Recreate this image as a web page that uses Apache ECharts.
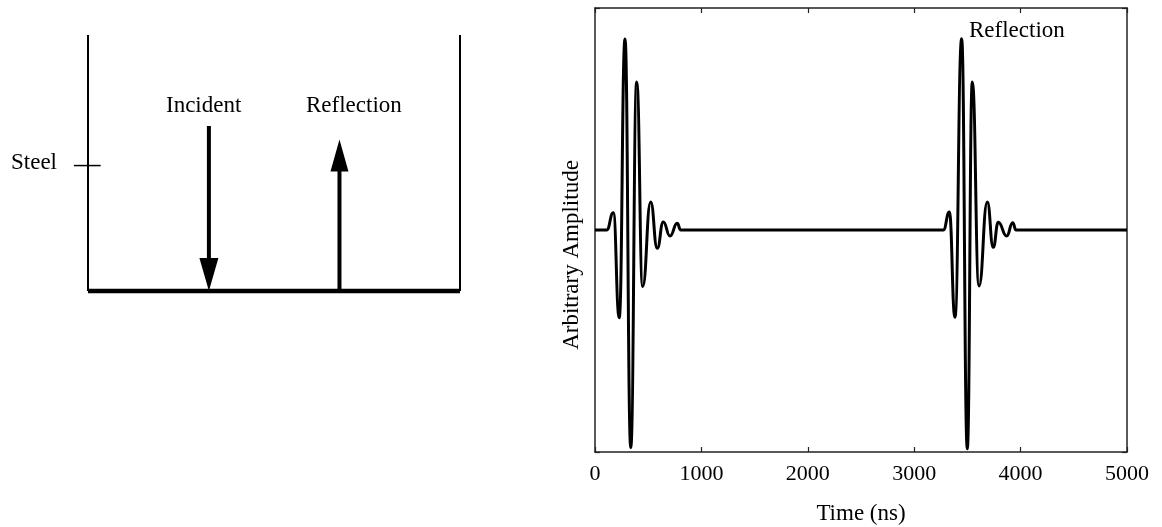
<!DOCTYPE html>
<html>
<head>
<meta charset="utf-8">
<script src="https://cdn.jsdelivr.net/npm/echarts@6/dist/echarts.min.js"></script>
<style>
html,body{margin:0;padding:0;background:#fff;}
#c{width:1162px;height:527px;}
</style>
</head>
<body>
<div id="c"></div>
<script>
// ---- Waveform data (time in ns, arbitrary amplitude) ----
const incidentTime = [0, 110, 172, 228, 282, 336, 392, 448, 523, 585, 642, 705, 773, 805];
const incidentAmp  = [0, 0, 0.078, -0.395, 0.86, -0.98, 0.667, -0.255, 0.126, -0.082, 0.036, -0.027, 0.03, 0];
const reflectTime  = [3274, 3330, 3383, 3446, 3499, 3546, 3609, 3687, 3743, 3790, 3869, 3926, 3957, 5000];
const reflectAmp   = [0, 0.081, -0.393, 0.862, -0.985, 0.667, -0.252, 0.126, -0.078, 0.035, -0.027, 0.033, 0, 0];
const xTicks = [0, 1000, 2000, 3000, 4000, 5000];

// ---- Schematic (tank units: width 0..100, height 0..100) ----
const tankWallLeft  = [[0, 100], [0, 0]];
const tankWallRight = [[100, 100], [100, 0]];
const tankFloor     = [[0, 0], [100, 0]];
const steelMark     = [[-3.8, 49], [3.4, 49]];
const incidentShaft = [[32.5, 64.5], [32.5, 12]];
const incidentHead  = [[32.5, 6.45]];
const reflectShaft  = [[67.6, 0], [67.6, 47]];
const reflectHead   = [[67.6, 52.9]];

const FONT = '"Liberation Serif", "Times New Roman", serif';

const signal = [];
incidentTime.forEach((t, i) => signal.push([t, incidentAmp[i]]));
reflectTime.forEach((t, i) => signal.push([t, reflectAmp[i]]));

function seg(data, w) {
  return {
    type: 'line', xAxisIndex: 2, yAxisIndex: 2, data: data, symbol: 'none',
    clip: false, silent: true, animation: false,
    lineStyle: {color: '#000', width: w, cap: 'butt'}
  };
}
function head(data, rot, size) {
  return {
    type: 'scatter', xAxisIndex: 2, yAxisIndex: 2, data: data, symbol: 'triangle',
    symbolRotate: rot, symbolSize: size, clip: false, silent: true, animation: false,
    itemStyle: {color: '#000', opacity: 1}
  };
}

const chart = echarts.init(document.getElementById('c'), null, {renderer: 'canvas'});
const axisLineStyle = {onZero: false, lineStyle: {color: '#222', width: 1.5}};
const tickStyle = {inside: true, length: 5, lineStyle: {color: '#222', width: 1.2}};

chart.setOption({
  animation: false,
  backgroundColor: '#fff',
  grid: [
    {left: 595, top: 8, width: 532, height: 444, containLabel: false, outerBoundsMode: 'none'},
    {left: 50.8, top: 35, width: 446.4, height: 256, containLabel: false, outerBoundsMode: 'none'}
  ],
  xAxis: [
    {
      type: 'value', gridIndex: 0, min: 0, max: 5000, interval: 1000, position: 'bottom',
      axisLine: axisLineStyle, axisTick: tickStyle, splitLine: {show: false},
      axisLabel: {color: '#000', fontFamily: FONT, fontSize: 22, margin: 11,
                  formatter: v => String(v)},
      name: 'Time (ns)', nameLocation: 'middle', nameGap: 50,
      nameTextStyle: {color: '#000', fontFamily: FONT, fontSize: 23}
    },
    {
      type: 'value', gridIndex: 0, min: 0, max: 5000, interval: 1000, position: 'top',
      axisLine: axisLineStyle, axisTick: tickStyle, splitLine: {show: false},
      axisLabel: {show: false}
    },
    {type: 'value', gridIndex: 1, min: -10, max: 110, show: false}
  ],
  yAxis: [
    {
      type: 'value', gridIndex: 0, min: -1, max: 1, interval: 1, position: 'left',
      axisLine: axisLineStyle, axisTick: tickStyle, splitLine: {show: false},
      axisLabel: {show: false}
    },
    {
      type: 'value', gridIndex: 0, min: -1, max: 1, interval: 1, position: 'right',
      axisLine: axisLineStyle, axisTick: tickStyle, splitLine: {show: false},
      axisLabel: {show: false}
    },
    {type: 'value', gridIndex: 1, min: 0, max: 100, show: false}
  ],
  series: [
    {
      type: 'line', xAxisIndex: 0, yAxisIndex: 0, data: signal, symbol: 'none',
      smooth: 0.5, smoothMonotone: 'x', animation: false,
      lineStyle: {color: '#000', width: 3}
    },
    seg(tankWallLeft, 2),
    seg(tankWallRight, 2),
    seg(tankFloor, 4.5),
    seg(steelMark, 1.5),
    seg(incidentShaft, 4),
    seg(reflectShaft, 4),
    head(incidentHead, 180, [19, 33]),
    head(reflectHead, 0, [18, 32])
  ],
  graphic: [
    {type: 'text', left: 11, top: 151, style: {text: 'Steel', fontFamily: FONT, fontSize: 23, fill: '#000'}},
    {type: 'text', left: 166, top: 94, style: {text: 'Incident', fontFamily: FONT, fontSize: 23, fill: '#000'}},
    {type: 'text', left: 306, top: 94, style: {text: 'Reflection', fontFamily: FONT, fontSize: 23, fill: '#000'}},
    {type: 'text', left: 969, top: 19, style: {text: 'Reflection', fontFamily: FONT, fontSize: 23, fill: '#000'}},
    {type: 'text', x: 572, y: 255, rotation: Math.PI / 2,
     style: {text: 'Arbitrary Amplitude', fontFamily: FONT, fontSize: 23, fill: '#000',
             align: 'center', verticalAlign: 'middle'}}
  ]
});
</script>
</body>
</html>
